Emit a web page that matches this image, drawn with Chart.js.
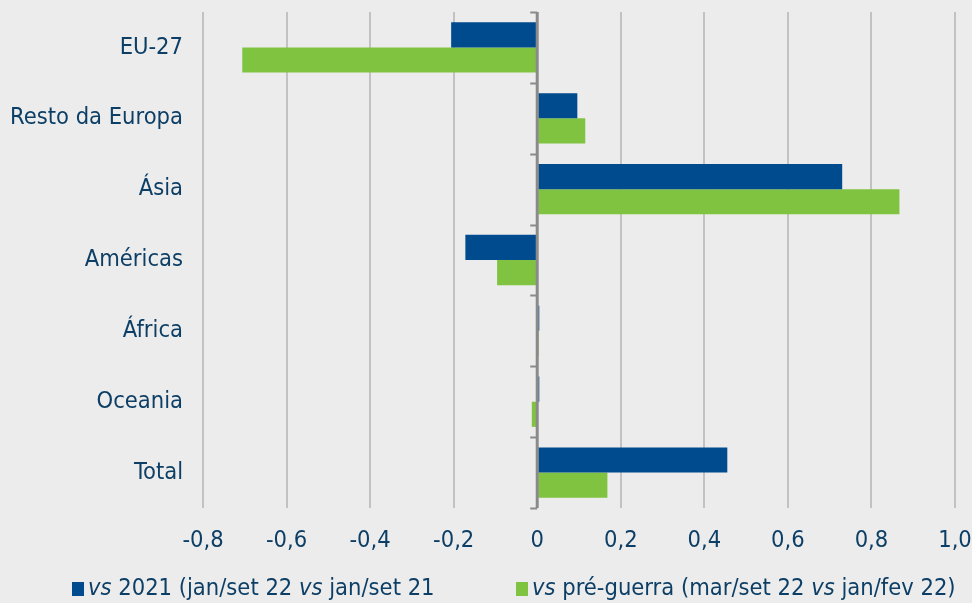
<!DOCTYPE html>
<html>
<head>
<meta charset="utf-8">
<script src="https://cdn.jsdelivr.net/npm/chart.js@4"></script>
<style>
  html, body { margin: 0; padding: 0; background: #ececec; }
  #wrap { position: relative; width: 972px; height: 603px; }
  canvas { position: absolute; left: 0; top: 0; }
  .leg { position: absolute; top: 573px; font-family: "DejaVu Sans Condensed", "DejaVu Sans", sans-serif; font-size: 23.5px; color: #0d3f66; white-space: nowrap; }
  .leg .sw { display: inline-block; width: 12px; height: 14px; margin-right: 4px; vertical-align: -1px; }
</style>
</head>
<body>
<div id="wrap">
  <canvas id="chart" width="972" height="603"></canvas>
  <div class="leg" id="leg0" style="left:72px"></div>
  <div class="leg" id="leg1" style="left:516px"></div>
</div>
<script>
// categorias e séries (variação)
const categorias = ['EU-27', 'Resto da Europa', 'Ásia', 'Américas', 'África', 'Oceania', 'Total'];
const serie2021 = [-0.206, 0.096, 0.730, -0.172, 0.005, 0.005, 0.455];
const seriePreGuerra = [-0.706, 0.115, 0.867, -0.096, 0.004, -0.013, 0.168];
const nomesSeries = ['vs 2021 (jan/set 22 vs jan/set 21', 'vs pré-guerra (mar/set 22 vs jan/fev 22)'];
const coresSeries = ['#004a8e', '#80c341'];
const ticksX = ['-0,8', '-0,6', '-0,4', '-0,2', '0', '0,2', '0,4', '0,6', '0,8', '1,0'];

const corTexto = '#0d3f66';
const fonte = '"DejaVu Sans Condensed", "DejaVu Sans", sans-serif';

// linha do zero com marcas entre categorias
const linhaZero = {
    id: 'linhaZero',
    afterDatasetsDraw(chart) {
        const { ctx, scales: { x, y } } = chart;
        const x0 = x.getPixelForValue(0);
        const n = categorias.length;
        const passo = (y.bottom - y.top) / n;
        ctx.save();
        ctx.strokeStyle = '#8a8a8a';
        ctx.lineWidth = 3;
        ctx.beginPath();
        ctx.moveTo(x0, y.top);
        ctx.lineTo(x0, y.bottom);
        ctx.stroke();
        ctx.lineWidth = 2;
        for (let i = 0; i <= n; i++) {
            const yy = Math.round(y.top + i * passo) + 0.5;
            ctx.beginPath();
            ctx.moveTo(x0 - 7, yy);
            ctx.lineTo(x0, yy);
            ctx.stroke();
        }
        ctx.restore();
    }
};

new Chart(document.getElementById('chart').getContext('2d'), {
    type: 'bar',
    data: {
        labels: categorias,
        datasets: [
            { label: nomesSeries[0], data: serie2021, backgroundColor: coresSeries[0] },
            { label: nomesSeries[1], data: seriePreGuerra, backgroundColor: coresSeries[1] }
        ]
    },
    options: {
        indexAxis: 'y',
        responsive: false,
        animation: false,
        categoryPercentage: 0.71,
        barPercentage: 1,
        layout: { padding: { top: 12, right: 17, left: 0, bottom: 0 } },
        plugins: {
            legend: { display: false },
            tooltip: { enabled: false }
        },
        scales: {
            x: {
                min: -0.8,
                max: 1.0,
                ticks: {
                    stepSize: 0.2,
                    color: corTexto,
                    font: { family: fonte, size: 23.5 },
                    padding: 19,
                    callback: (v, i) => ticksX[i]
                },
                grid: { color: '#c2c2c2', lineWidth: 2, drawTicks: false },
                border: { display: false },
                afterFit: s => { s.height = 95; s.paddingLeft = 0; s.paddingRight = 0; }
            },
            y: {
                ticks: {
                    color: corTexto,
                    font: { family: fonte, size: 23.5 },
                    padding: 20
                },
                grid: { display: false, drawTicks: false },
                border: { display: false },
                afterFit: s => { s.width = 203; s.paddingTop = 0; s.paddingBottom = 0; }
            }
        }
    },
    plugins: [linhaZero]
});

// legenda com "vs" em itálico
nomesSeries.forEach((nome, i) => {
    const el = document.getElementById('leg' + i);
    el.innerHTML = '<span class="sw" style="background:' + coresSeries[i] + '"></span>' +
        nome.replace(/\bvs\b/g, '<i>vs</i>');
});
</script>
</body>
</html>
